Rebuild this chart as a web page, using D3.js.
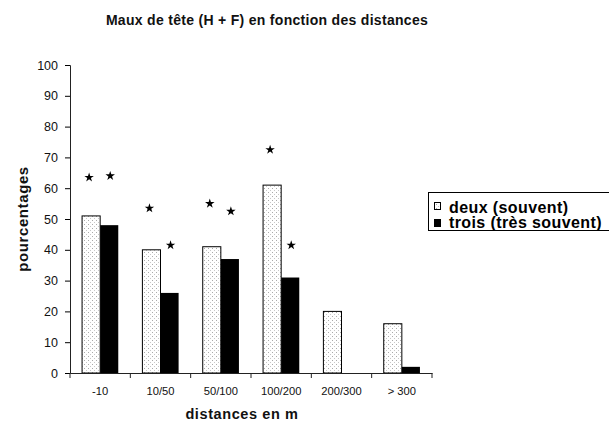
<!DOCTYPE html>
<html><head><meta charset="utf-8">
<script src="https://cdn.jsdelivr.net/npm/d3@7"></script>
<style>body{margin:0;background:#fff}svg{display:block}text{font-family:"Liberation Sans",Arial,sans-serif}</style>
</head><body>
<svg id="c" width="609" height="428"></svg>
<script>
const categories = ["-10","10/50","50/100","100/200","200/300","> 300"];
const deux = [51,40,41,61,20,16];
const trois = [48,26,37,31,0,2];
// asterisk annotation heights (in % units), null = none
const starDeux = [63.5,53.5,55,72.5,null,null];
const starTrois = [64,41.5,52.5,41.5,null,null];
const yTicks = [0,10,20,30,40,50,60,70,80,90,100];
const seriesNames = ["deux (souvent)","trois (très souvent)"];

const svg = d3.select("#c");
const x = d3.scaleBand().domain(categories).range([70,432]).paddingInner(0).paddingOuter(0);
const y = d3.scaleLinear().domain([0,100]).range([373,65]);
const bw = x.bandwidth()*0.3;

const defs = svg.append("defs");
const pat = defs.append("pattern").attr("id","dots").attr("patternUnits","userSpaceOnUse").attr("width",4).attr("height",4);
pat.append("rect").attr("width",4).attr("height",4).attr("fill","#fff");
pat.append("rect").attr("x",0).attr("y",0).attr("width",1).attr("height",1).attr("fill","#aaa");
pat.append("rect").attr("x",2).attr("y",2).attr("width",1).attr("height",1).attr("fill","#c8c8c8");

// title
svg.append("text").attr("x",267).attr("y",25).attr("text-anchor","middle")
  .attr("font-size",14).attr("font-weight","bold").attr("fill","#111").attr("letter-spacing",0.3)
  .text("Maux de tête (H + F) en fonction des distances");

// bars
const g = svg.append("g");
const x0 = c => x(c) + (x.bandwidth()-2*bw)/2;
g.selectAll(".d").data(categories).enter().append("rect")
  .attr("x",(c)=>x0(c)).attr("width",bw)
  .attr("y",(c,i)=>y(deux[i])).attr("height",(c,i)=>y(0)-y(deux[i]))
  .attr("fill","url(#dots)").attr("stroke","#000").attr("stroke-width",1);
g.selectAll(".t").data(categories).enter().append("rect")
  .attr("x",(c)=>x0(c)+bw).attr("width",bw)
  .attr("y",(c,i)=>y(trois[i])).attr("height",(c,i)=>y(0)-y(trois[i]))
  .attr("fill","#000");

// stars
const star = d3.symbol().type(d3.symbolStar).size(28);
categories.forEach((c,i)=>{
  if(starDeux[i]!=null) svg.append("path").attr("d",star)
    .attr("transform",`translate(${x0(c)+bw/2-2},${y(starDeux[i])})`).attr("fill","#000");
  if(starTrois[i]!=null) svg.append("path").attr("d",star)
    .attr("transform",`translate(${x0(c)+bw*1.5+1},${y(starTrois[i])})`).attr("fill","#000");
});

// y axis
const ya = svg.append("g").attr("transform","translate(70,0)")
  .call(d3.axisLeft(y).tickValues(yTicks).tickSize(5).tickPadding(7));
ya.select(".domain").attr("stroke","#222");
ya.selectAll("text").attr("font-size",12.5).attr("fill","#111").attr("font-family","Liberation Sans, Arial, sans-serif");

// x axis
const xa = svg.append("g").attr("transform","translate(0,373)")
  .call(d3.axisBottom(x).tickSize(0).tickPadding(14));
xa.select(".domain").attr("stroke","#222");
xa.selectAll("text").attr("font-size",11.2).attr("fill","#111").attr("font-family","Liberation Sans, Arial, sans-serif");
const bounds = categories.map(c=>x(c)).concat([x(categories[categories.length-1])+x.bandwidth()]);
svg.append("g").selectAll("line").data(bounds).enter().append("line")
  .attr("x1",d=>d).attr("x2",d=>d).attr("y1",373).attr("y2",378).attr("stroke","#222");

// axis titles
svg.append("text").attr("x",242).attr("y",419).attr("text-anchor","middle")
  .attr("font-size",14.5).attr("font-weight","bold").attr("fill","#111").attr("letter-spacing",0.6).text("distances en m");
svg.append("text").attr("transform","translate(28,219) rotate(-90)").attr("text-anchor","middle")
  .attr("font-size",15).attr("font-weight","bold").attr("fill","#111").attr("letter-spacing",0.6).text("pourcentages");

// legend
const lg = svg.append("g");
lg.append("rect").attr("x",428.5).attr("y",192.5).attr("width",190).attr("height",38)
  .attr("fill","#fff").attr("stroke","#000").attr("stroke-width",1);
lg.append("rect").attr("x",434.5).attr("y",202.5).attr("width",6).attr("height",7).attr("fill","url(#dots)").attr("stroke","#000");
lg.append("rect").attr("x",434).attr("y",219).attr("width",7).attr("height",8).attr("fill","#000");
lg.append("text").attr("x",449).attr("y",212.5).attr("font-size",16).attr("font-weight","bold").attr("letter-spacing",0.4).text(seriesNames[0]);
lg.append("text").attr("x",449).attr("y",228).attr("font-size",16).attr("font-weight","bold").attr("letter-spacing",0.4).text(seriesNames[1]);
</script>
</body></html>
